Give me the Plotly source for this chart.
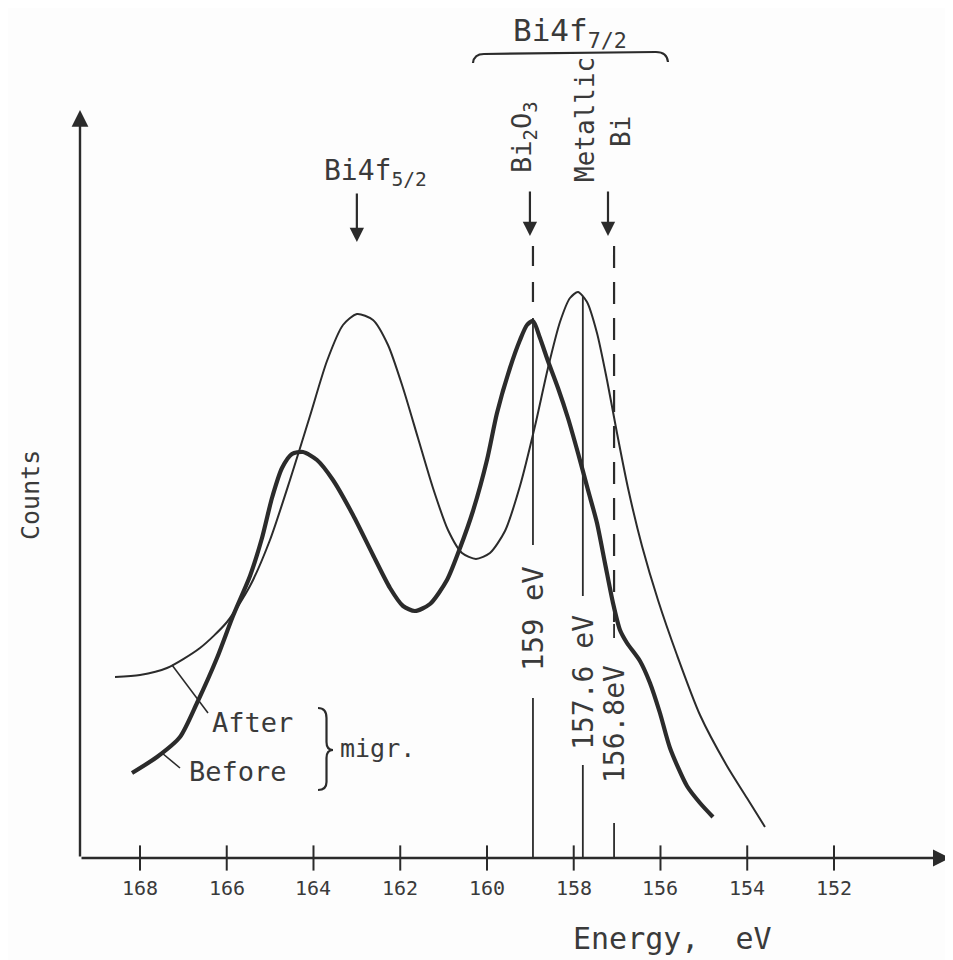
import plotly.graph_objects as go

# ---------------- data (binding energy in eV, counts in arbitrary units) ----------------
after_energy = [168.576, 168.000, 167.378, 166.617, 165.994, 165.464, 165.003, 164.542, 164.081, 163.689,
                163.320, 162.997, 162.628, 162.282, 161.936, 161.591, 161.245, 160.899, 160.576, 160.254,
                159.931, 159.585, 159.239, 158.893, 158.594, 158.317, 158.086, 157.902, 157.694, 157.464,
                157.233, 157.003, 156.749, 156.426, 156.058, 155.620, 155.089, 154.467, 154.006, 153.591]
after_counts = [181, 183, 190, 210, 236, 272, 318, 378, 442, 497,
                533, 544, 538, 513, 470, 420, 370, 328, 305, 299,
                305, 327, 372, 432, 490, 536, 560, 566, 556, 525,
                478, 425, 370, 312, 258, 203, 143, 92, 60, 31]

before_energy = [168.184, 167.608, 167.078, 166.686, 166.225, 165.856, 165.464, 165.187, 164.957, 164.726,
                 164.496, 164.242, 163.919, 163.551, 163.089, 162.628, 162.236, 161.936, 161.660, 161.314,
                 160.922, 160.622, 160.323, 160.000, 159.769, 159.470, 159.239, 159.078, 158.939, 158.778,
                 158.594, 158.363, 158.133, 157.902, 157.671, 157.464, 157.280, 157.095, 156.934, 156.772,
                 156.473, 156.242, 156.012, 155.781, 155.389, 155.089, 154.790]
before_counts = [85, 101, 121, 155, 200, 242, 282, 320, 360, 390,
                 404, 406, 398, 378, 343, 303, 270, 252, 247, 254,
                 278, 310, 347, 398, 445, 490, 518, 533, 537, 520,
                 497, 470, 440, 405, 368, 335, 295, 255, 228, 215,
                 197, 175, 145, 110, 72, 55, 41]

tick_values = [168, 166, 164, 162, 160, 158, 156, 154, 152]
tick_labels = ["168", "166", "164", "162", "160", "158", "156", "154", "152"]

# reference lines (energy as drawn, label)
ref_bi2o3 = 158.94
ref_metal_peak = 157.79
ref_metal = 157.07
ref_labels = ["159 eV", "157.6 eV", "156.8eV"]

# peak markers (down arrows)
arrow_energies = [163.0, 159.01, 157.21]

# axis extents
x_axis_start, x_axis_end = 169.383, 149.33
y_axis_top = 748

INK = "#2b2b2b"
TXT = "#3a3a3a"
FONT = "DejaVu Sans Mono"

fig = go.Figure()

# curves
fig.add_trace(go.Scatter(x=after_energy, y=after_counts, mode="lines",
                         line=dict(color=INK, width=2, shape="spline", smoothing=0.7),
                         hoverinfo="skip"))
fig.add_trace(go.Scatter(x=before_energy, y=before_counts, mode="lines",
                         line=dict(color=INK, width=4.2, shape="spline", smoothing=0.7),
                         hoverinfo="skip"))

def seg(x0, y0, x1, y1, width=1.8, dash="solid"):
    fig.add_trace(go.Scatter(x=[x0, x1], y=[y0, y1], mode="lines",
                             line=dict(color=INK, width=width, dash=dash),
                             hoverinfo="skip"))

# reference lines
seg(ref_bi2o3, 612, ref_bi2o3, 542, width=2.2, dash="20px,16px")
seg(ref_bi2o3, 540, ref_bi2o3, 313)
seg(ref_bi2o3, 160, ref_bi2o3, 0)
seg(ref_metal_peak, 562, ref_metal_peak, 262)
seg(ref_metal_peak, 93, ref_metal_peak, 0)
seg(ref_metal, 612, ref_metal, 236, width=2.2, dash="22px,14px")
seg(ref_metal, 234, ref_metal, 220)
seg(ref_metal, 35, ref_metal, 0)

# leader lines to legend words
seg(167.262, 193, 166.432, 145, width=1.6)
seg(167.493, 105, 167.078, 90, width=1.6)

# axis ticks crossing the axis
fig.add_trace(go.Scatter(x=tick_values, y=[0] * len(tick_values), mode="markers",
                         marker=dict(symbol="line-ns", size=18,
                                     line=dict(color=INK, width=2)),
                         cliponaxis=False, hoverinfo="skip"))

annotations = []

def arrow(x, y, ax, ay, width=2.2, size=1.2):
    annotations.append(dict(x=x, y=y, ax=ax, ay=ay, xref="x", yref="y", axref="x", ayref="y",
                            text="", showarrow=True, arrowhead=2, arrowsize=size,
                            arrowwidth=width, arrowcolor=INK, standoff=0))

# axes with arrow heads
arrow(x_axis_end, 0, x_axis_start, 0, width=2.4, size=1.4)
arrow(x_axis_start, y_axis_top, x_axis_start, 0, width=2.4, size=1.4)

# peak arrows
arrow(arrow_energies[0], 616, arrow_energies[0], 666, width=2.2, size=1.3)
arrow(arrow_energies[1], 622, arrow_energies[1], 668, width=2.2, size=1.3)
arrow(arrow_energies[2], 622, arrow_energies[2], 668, width=2.2, size=1.3)

def text(x, y, s, size, angle=0, xanchor="center", yanchor="middle"):
    annotations.append(dict(x=x, y=y, xref="x", yref="y", text=s, showarrow=False,
                            textangle=angle, xanchor=xanchor, yanchor=yanchor,
                            font=dict(family=FONT, size=size, color=TXT)))

for v, lab in zip(tick_values, tick_labels):
    text(v, -30, lab, 20)

text(155.712, -80, "Energy,  eV", 30)
text(170.536, 363, "Counts", 25, angle=-90)

text(162.58, 686, "Bi4f<sub>5/2</sub>", 28)
text(158.09, 826, "Bi4f<sub>7/2</sub>", 31)
text(159.17, 721, "Bi<sub>2</sub>O<sub>3</sub>", 27, angle=-90)
text(157.741, 739, "Metallic", 26, angle=-90)
text(156.910, 726, "Bi", 26, angle=-90)

text(ref_bi2o3, 240, ref_labels[0], 29, angle=-90)
text(ref_metal_peak, 176, ref_labels[1], 28, angle=-90)
text(ref_metal, 134, ref_labels[2], 28, angle=-90)

text(166.386, 136, "After", 27, xanchor="left")
text(166.916, 87, "Before", 27, xanchor="left")
text(163.435, 110, "migr.", 25, xanchor="left")

shapes = [
    # brace above the Bi4f7/2 components
    dict(type="path", xref="x", yref="y",
         path="M 160.323,795 Q 160.30,804 160.069,804 L 156.104,806 Q 155.85,806 155.827,796",
         line=dict(color=INK, width=2.2)),
    # brace grouping After / Before
    dict(type="path", xref="x", yref="y",
         path="M 163.896,150 Q 163.70,150 163.70,140 L 163.70,116 Q 163.70,108 163.55,108 "
              "Q 163.70,108 163.70,100 L 163.70,76 Q 163.70,68 163.896,68",
         line=dict(color=INK, width=2.2)),
]

# the page places the figure 8 px from the top-left corner; ranges account for that
fig.update_layout(
    width=945, height=952,
    margin=dict(l=0, r=0, t=0, b=0),
    paper_bgcolor="#fdfdfd", plot_bgcolor="#fdfdfd",
    showlegend=False,
    xaxis=dict(range=[171.043, 149.256], visible=False, fixedrange=True),
    yaxis=dict(range=[-102, 850], visible=False, fixedrange=True),
    annotations=annotations,
    shapes=shapes,
)

fig.write_html("out.html")
